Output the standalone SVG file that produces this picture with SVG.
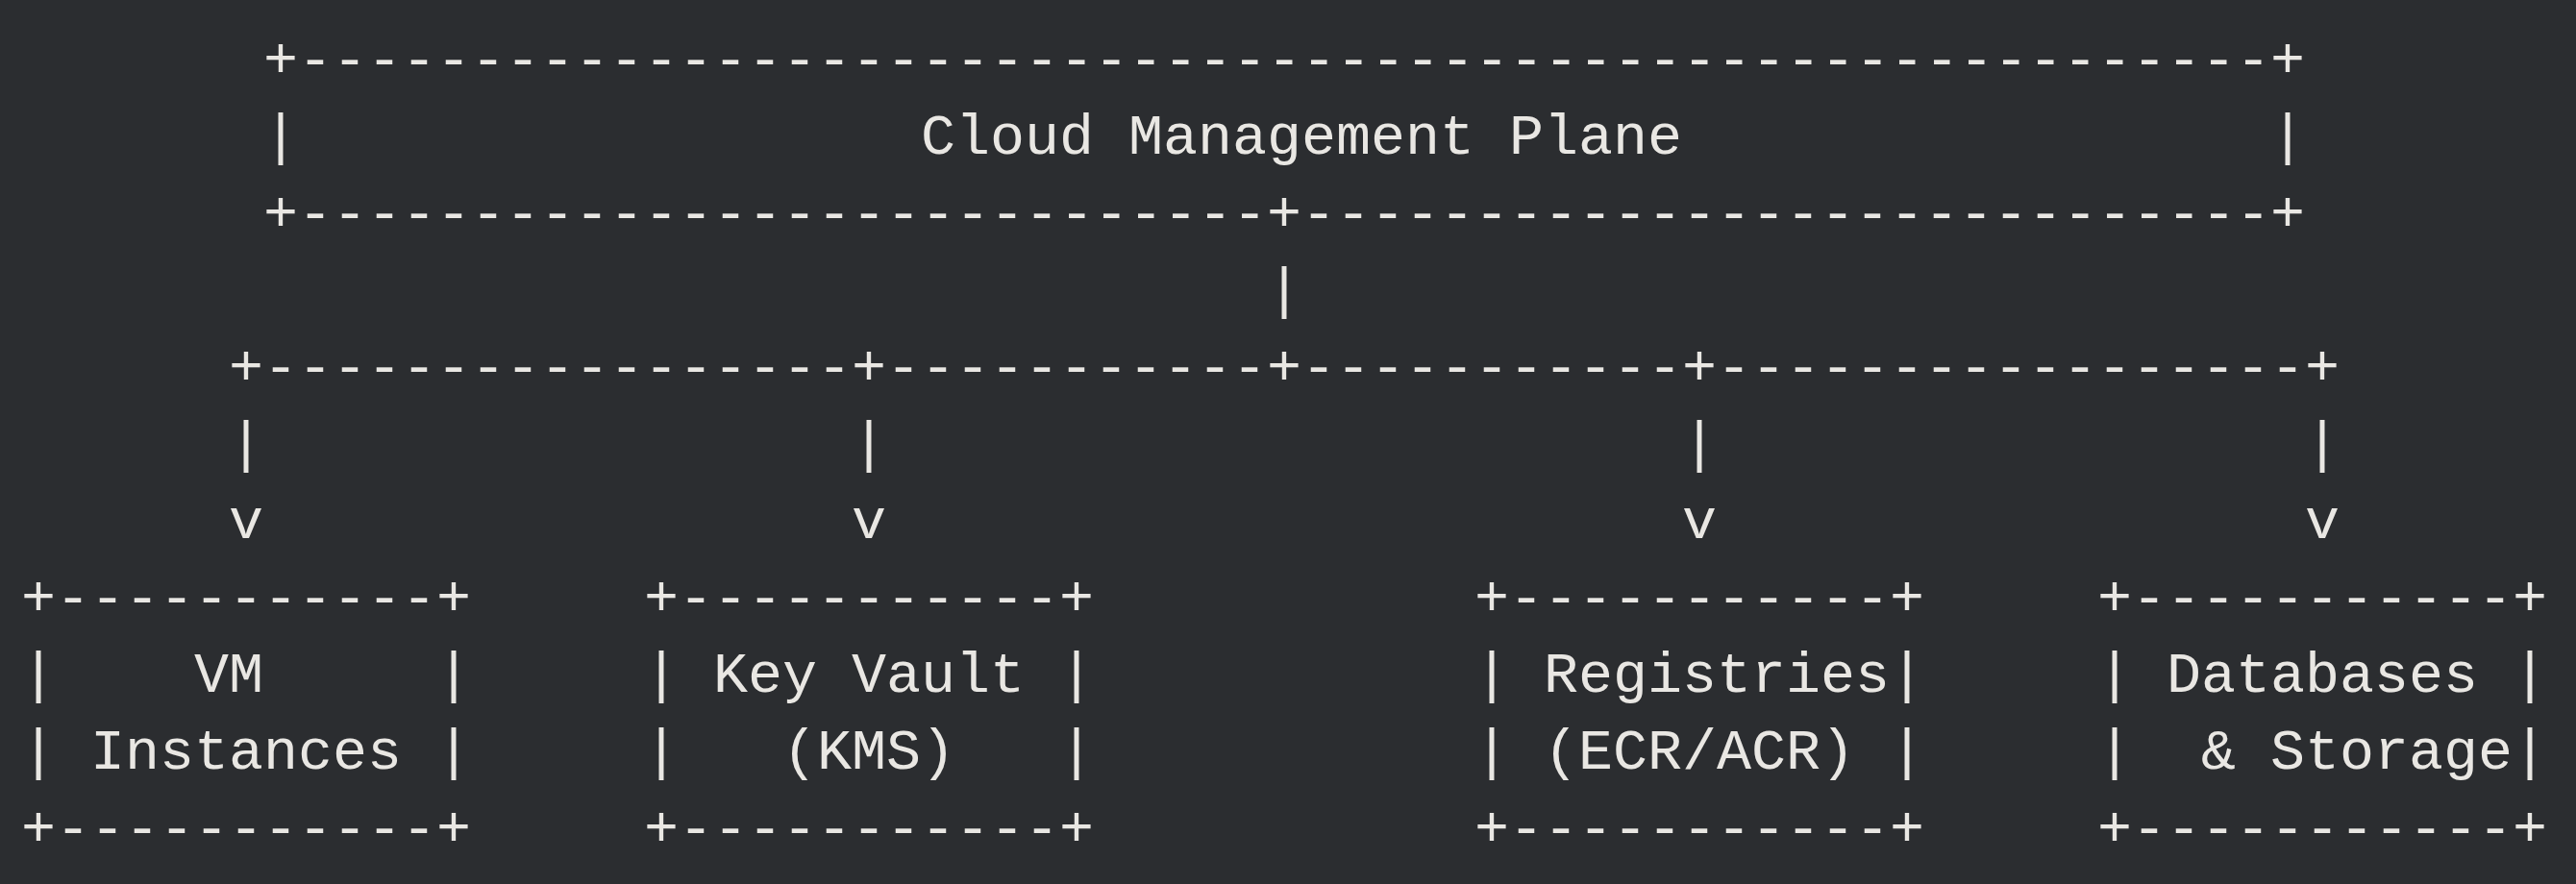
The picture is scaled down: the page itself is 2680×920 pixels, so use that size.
<svg xmlns="http://www.w3.org/2000/svg" width="2680" height="920" viewBox="0 0 2680 920">
<style>
.t { font-family: "Liberation Mono", "DejaVu Sans Mono", monospace; font-size: 60px; fill: #e9e7e3; }
</style>
<rect width="2680" height="920" fill="#2b2d30"/>
<g id="cloud-management-plane">
  <text class="t" x="274" y="80">+</text>
  <text class="t" x="310" y="80">---------------------------------------------------------</text>
  <text class="t" x="2362" y="80">+</text>
  <text class="t" x="274" y="160">|</text>
  <text class="t" x="958" y="160">Cloud Management Plane</text>
  <text class="t" x="2362" y="160">|</text>
  <text class="t" x="274" y="240">+</text>
  <text class="t" x="310" y="240">----------------------------</text>
  <text class="t" x="1318" y="240">+</text>
  <text class="t" x="1354" y="240">----------------------------</text>
  <text class="t" x="2362" y="240">+</text>
</g>
<g id="connectors">
  <text class="t" x="1318" y="320">|</text>
  <text class="t" x="238" y="400">+</text>
  <text class="t" x="274" y="400">-----------------</text>
  <text class="t" x="886" y="400">+</text>
  <text class="t" x="922" y="400">-----------</text>
  <text class="t" x="1318" y="400">+</text>
  <text class="t" x="1354" y="400">-----------</text>
  <text class="t" x="1750" y="400">+</text>
  <text class="t" x="1786" y="400">-----------------</text>
  <text class="t" x="2398" y="400">+</text>
  <text class="t" x="238" y="480">|</text>
  <text class="t" x="886" y="480">|</text>
  <text class="t" x="1750" y="480">|</text>
  <text class="t" x="2398" y="480">|</text>
  <text class="t" x="238" y="560">v</text>
  <text class="t" x="886" y="560">v</text>
  <text class="t" x="1750" y="560">v</text>
  <text class="t" x="2398" y="560">v</text>
</g>
<g id="vm-instances">
  <text class="t" x="22" y="640">+-----------+</text>
  <text class="t" x="22" y="720">|</text>
  <text class="t" x="202" y="720">VM</text>
  <text class="t" x="454" y="720">|</text>
  <text class="t" x="22" y="800">|</text>
  <text class="t" x="94" y="800">Instances</text>
  <text class="t" x="454" y="800">|</text>
  <text class="t" x="22" y="880">+-----------+</text>
</g>
<g id="key-vault">
  <text class="t" x="670" y="640">+-----------+</text>
  <text class="t" x="670" y="720">|</text>
  <text class="t" x="742" y="720">Key Vault</text>
  <text class="t" x="1102" y="720">|</text>
  <text class="t" x="670" y="800">|</text>
  <text class="t" x="814" y="800">(KMS)</text>
  <text class="t" x="1102" y="800">|</text>
  <text class="t" x="670" y="880">+-----------+</text>
</g>
<g id="registries">
  <text class="t" x="1534" y="640">+-----------+</text>
  <text class="t" x="1534" y="720">|</text>
  <text class="t" x="1606" y="720">Registries</text>
  <text class="t" x="1966" y="720">|</text>
  <text class="t" x="1534" y="800">|</text>
  <text class="t" x="1606" y="800">(ECR/ACR)</text>
  <text class="t" x="1966" y="800">|</text>
  <text class="t" x="1534" y="880">+-----------+</text>
</g>
<g id="databases-storage">
  <text class="t" x="2182" y="640">+-----------+</text>
  <text class="t" x="2182" y="720">|</text>
  <text class="t" x="2254" y="720">Databases</text>
  <text class="t" x="2614" y="720">|</text>
  <text class="t" x="2182" y="800">|</text>
  <text class="t" x="2290" y="800">&amp; Storage</text>
  <text class="t" x="2614" y="800">|</text>
  <text class="t" x="2182" y="880">+-----------+</text>
</g>
</svg>
